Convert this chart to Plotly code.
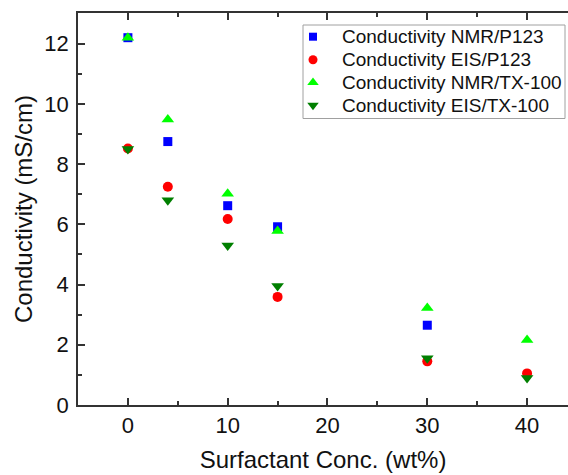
import plotly.graph_objects as go

# Surfactant concentration (wt%) and measured conductivities (mS/cm)
conc_p123 = [0, 4, 10, 15, 30, 40]
nmr_p123 = [12.2, 8.75, 6.62, 5.92, 2.65, None]
eis_p123 = [8.52, 7.25, 6.18, 3.59, 1.45, 1.05]

conc_tx = [0, 4, 10, 15, 30, 40]
nmr_tx = [12.2, 9.48, 7.02, 5.78, 3.22, 2.16]
eis_tx = [8.5, 6.8, 5.3, 3.95, 1.55, 0.9]

series = [
    ("Conductivity NMR/P123", conc_p123, nmr_p123, "square", "#0000ff", 9),
    ("Conductivity EIS/P123", conc_p123, eis_p123, "circle", "#ff0000", 10),
    ("Conductivity NMR/TX-100", conc_tx, nmr_tx, "triangle-up", "#00ff00", 11),
    ("Conductivity EIS/TX-100", conc_tx, eis_tx, "triangle-down", "#007f00", 11),
]

W, H = 568, 475
ML, MT, MB = 78, 13, 70

fig = go.Figure()
for name, x, y, sym, col, size in series:
    fig.add_trace(go.Scatter(
        x=x, y=y, mode="markers", name=name, showlegend=False,
        marker=dict(symbol=sym, color=col, size=size, line=dict(width=0)),
    ))

# Compact legend box drawn on a pixel-scaled overlay axis pair
leg_left, leg_top, leg_right, leg_bottom = 303, 25, 565, 118.5
row_y = [36.7, 59.8, 82.5, 105.2]
sym_x, text_x = 313, 340

fig.add_shape(type="rect", xref="x2", yref="y2",
              x0=leg_left, x1=leg_right, y0=leg_top, y1=leg_bottom,
              line=dict(color="#a0a0a0", width=1), fillcolor="white",
              layer="below")
for (name, _, _, sym, col, size), ry in zip(series, row_y):
    fig.add_trace(go.Scatter(
        x=[sym_x], y=[ry], xaxis="x2", yaxis="y2", mode="markers",
        showlegend=False, hoverinfo="skip",
        marker=dict(symbol=sym, color=col, size=size - 1, line=dict(width=0)),
    ))
    fig.add_annotation(x=text_x, y=ry, xref="x2", yref="y2", text=name,
                       showarrow=False, xanchor="left", yanchor="middle",
                       font=dict(size=19, color="#111111"))

font = "Arial, Liberation Sans, sans-serif"
axis_col = "#333333"

fig.update_layout(
    width=W, height=H,
    margin=dict(l=ML, r=0, t=MT, b=MB),
    plot_bgcolor="white", paper_bgcolor="white",
    font=dict(family=font, size=22, color="#111111"),
    showlegend=False,
    xaxis=dict(
        range=[-5, 44.1], tickvals=[0, 10, 20, 30, 40],
        showgrid=False, zeroline=False,
        showline=True, linecolor=axis_col, linewidth=1.5, mirror="ticks",
        ticks="inside", ticklen=7, tickwidth=1.5, tickcolor=axis_col,
        minor=dict(tickvals=[5, 15, 25, 35], ticks="inside", ticklen=4,
                   tickwidth=1.5, tickcolor=axis_col),
        title=dict(text="Surfactant Conc. (wt%)", standoff=14,
                   font=dict(size=24)),
        tickfont=dict(size=22),
    ),
    yaxis=dict(
        range=[0, 13.02], tickvals=[0, 2, 4, 6, 8, 10, 12],
        showgrid=False, zeroline=False,
        showline=True, linecolor=axis_col, linewidth=1.5,
        ticks="inside", ticklen=7, tickwidth=1.5, tickcolor=axis_col,
        minor=dict(tickvals=[1, 3, 5, 7, 9, 11], ticks="inside", ticklen=4,
                   tickwidth=1.5, tickcolor=axis_col),
        ticklabelstandoff=3,
        title=dict(text="Conductivity (mS/cm)", standoff=5,
                   font=dict(size=24)),
        tickfont=dict(size=22),
    ),
    xaxis2=dict(overlaying="x", range=[ML, W], visible=False, fixedrange=True),
    yaxis2=dict(overlaying="y", range=[H - MB, MT], visible=False,
                fixedrange=True),
)

fig.write_html("out.html")
